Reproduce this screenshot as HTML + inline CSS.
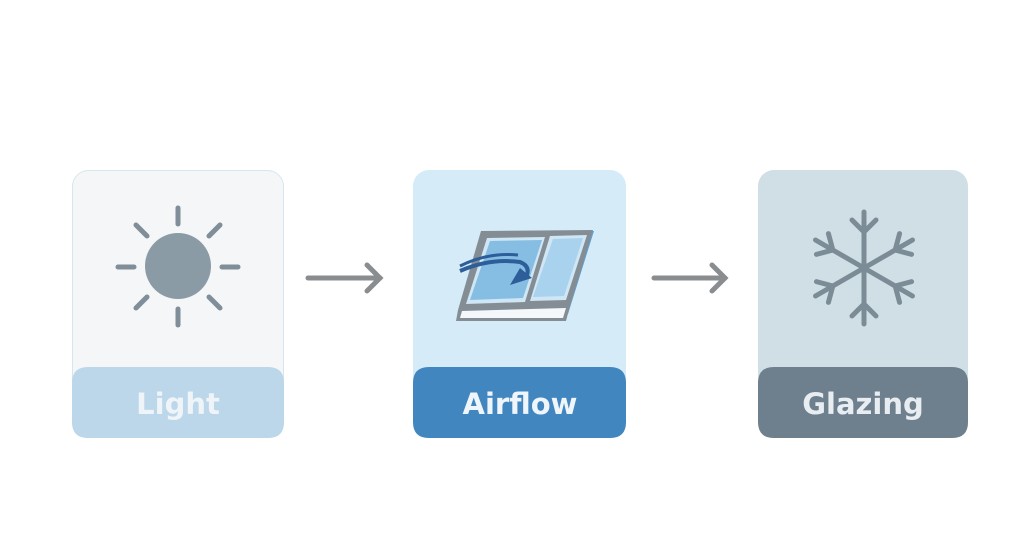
<!DOCTYPE html>
<html><head><style>
html,body{margin:0;padding:0;background:#fff;width:1024px;height:553px;overflow:hidden}
</style></head><body>
<svg width="1024" height="553" viewBox="0 0 1024 553" xmlns="http://www.w3.org/2000/svg" font-family="'DejaVu Sans', 'Liberation Sans', sans-serif">
<rect width="1024" height="553" fill="#ffffff"/>
<!-- Light card -->
<rect x="72.5" y="170.5" width="211" height="267" rx="16" fill="#f4f6f7" stroke="#d6e6ee"/>
<path d="M72 383 Q72 367 88 367 H268 Q284 367 284 383 V422 Q284 438 268 438 H88 Q72 438 72 422 Z" fill="#bcd6ea"/>
<text x="178" y="414" text-anchor="middle" font-size="29" font-weight="bold" fill="#eef4f8">Light</text>
<g stroke="#7f8e99" stroke-width="5" stroke-linecap="round">
<line x1="178" y1="208" x2="178" y2="224"/><line x1="178" y1="309" x2="178" y2="325"/>
<line x1="118" y1="267" x2="134" y2="267"/><line x1="222" y1="267" x2="238" y2="267"/>
<line x1="136" y1="225" x2="147" y2="236"/><line x1="209" y1="236" x2="220" y2="225"/>
<line x1="136" y1="308" x2="147" y2="297"/><line x1="209" y1="297" x2="220" y2="308"/>
</g>
<circle cx="178" cy="266" r="33" fill="#8a9ba6"/>
<!-- arrow 1 -->
<g stroke="#8a8d90" stroke-width="5" stroke-linecap="round" fill="none">
<line x1="308" y1="278" x2="380" y2="278"/><polyline points="367,265 380,278 367,291"/>
</g>
<!-- Airflow card -->
<rect x="413" y="170" width="213" height="268" rx="16" fill="#d5ecf8"/>
<path d="M413 383 Q413 367 429 367 H610 Q626 367 626 383 V422 Q626 438 610 438 H429 Q413 438 413 422 Z" fill="#4286c0"/>
<text x="520" y="414" text-anchor="middle" font-size="29" font-weight="bold" fill="#eef5fb">Airflow</text>
<g>
<polygon points="481,233 594,231 568,314 458,318" fill="#5aa2d6"/>
<polygon points="481,231 593,230 570,306 458,310" fill="#858d94"/>
<polygon points="487,238 545,237 525,302 466,304" fill="#cfe6f4"/>
<polygon points="490,241 542,240 523,298 470,300" fill="#86bde3"/>
<polygon points="550,236 587,235 566,300 530,301" fill="#cfe6f4"/>
<polygon points="553,239 583,238 564,296 533,297" fill="#a9d2ee"/>
<polygon points="458,310 570,306 566,321 456,321" fill="#858d94"/>
<polygon points="462,311 566,308 563,318 460,318" fill="#f4f8fb"/>
<path d="M460 271 Q490 258 520 262 Q530 266 527 275" stroke="#2d5e99" stroke-width="4" fill="none"/>
<path d="M460 266 Q488 252 518 255" stroke="#2d5e99" stroke-width="3" fill="none"/>
<polygon points="520,268 532,278 510,285" fill="#2d5e99"/>
</g>
<!-- arrow 2 -->
<g stroke="#8a8d90" stroke-width="5" stroke-linecap="round" fill="none">
<line x1="654" y1="278" x2="725" y2="278"/><polyline points="712,265 725,278 712,291"/>
</g>
<!-- Glazing card -->
<rect x="758" y="170" width="210" height="268" rx="16" fill="#d0dfe6"/>
<path d="M758 383 Q758 367 774 367 H952 Q968 367 968 383 V422 Q968 438 952 438 H774 Q758 438 758 422 Z" fill="#6e7f8d"/>
<text x="863" y="414" text-anchor="middle" font-size="29" font-weight="bold" fill="#e7edf1">Glazing</text>
<g stroke="#7b8c97" stroke-width="5" stroke-linecap="round" fill="none" transform="translate(864,268)">
<g id="arm"><line x1="0" y1="0" x2="0" y2="-56"/><polyline points="-12,-48 0,-36 12,-48"/></g>
<use href="#arm" transform="rotate(60)"/><use href="#arm" transform="rotate(120)"/>
<use href="#arm" transform="rotate(180)"/><use href="#arm" transform="rotate(240)"/><use href="#arm" transform="rotate(300)"/>
</g>
</svg>
</body></html>
